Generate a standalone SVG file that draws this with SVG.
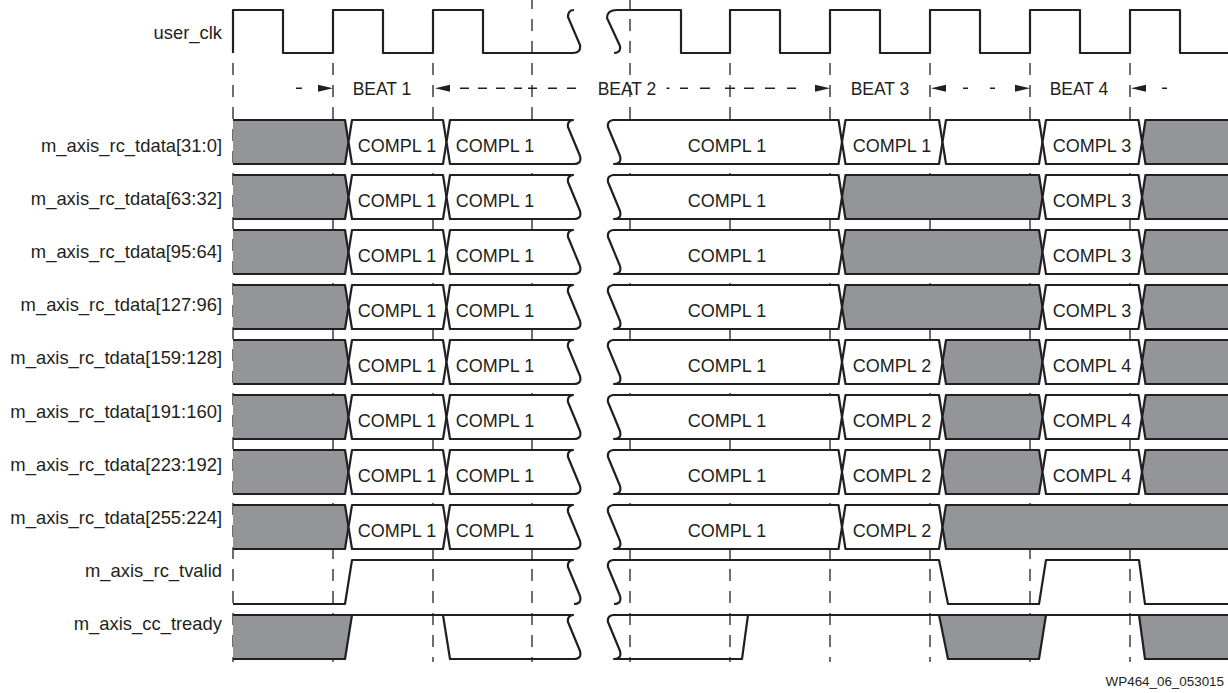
<svg xmlns="http://www.w3.org/2000/svg" width="1228" height="693" viewBox="0 0 1228 693">
<style>
.ln{fill:none;stroke:#231f20;stroke-width:2.2;stroke-linejoin:round}
.w{fill:#fff;stroke:#231f20;stroke-width:2.2;stroke-linejoin:round}
.g{fill:#939598;stroke:#231f20;stroke-width:2.2;stroke-linejoin:round}
.gf{fill:#939598;stroke:none}
.grid{stroke:#231f20;stroke-width:1.3;stroke-dasharray:12 10;fill:none}
.dsh{stroke:#231f20;stroke-width:1.4;fill:none}
.ah{fill:#231f20}
.lbl{font-family:"Liberation Sans",Arial,Helvetica,sans-serif;font-size:18.4px;fill:#231f20;text-anchor:end}
.tx{font-family:"Liberation Sans",Arial,Helvetica,sans-serif;font-size:18px;fill:#231f20;text-anchor:middle}
.bt{font-family:"Liberation Sans",Arial,Helvetica,sans-serif;font-size:17.5px;fill:#231f20;text-anchor:middle}
.ft{font-family:"Liberation Sans",Arial,Helvetica,sans-serif;font-size:13.4px;fill:#231f20;text-anchor:end}
</style>
<defs>
<path id="ahR" class="ah" d="M0,0 L-15,-3.5 L-15,3.5 Z"/>
<path id="ahL" class="ah" d="M0,0 L15,-3.5 L15,3.5 Z"/>
<g id="dl">
<path class="g" d="M233,0 L345,0 L348.5,22 L345,44 L233,44"/>
<path class="w" d="M352,0 L443,0 L446.5,22 L443,44 L352,44 L348.5,22 Z"/>
<path class="w" d="M450,0 L573,0 Q567,1 568,7 L580,36 Q582,44 574,44 L450,44 L446.5,22 Z"/>
<text class="tx" x="397" y="31.7">COMPL 1</text>
<text class="tx" x="495" y="31.7">COMPL 1</text>
</g>
<g id="dr">
<path class="w" d="M613,0 L838.5,0 L842,22 L838.5,44 L614,44 Q622,44 620,36 L608,7 Q607,1 613,0 Z"/>
<text class="tx" x="727" y="31.7">COMPL 1</text>
</g>
<path id="s1" d="M845.5,0 L939,0 L942.5,22 L939,44 L845.5,44 L842,22 Z"/>
<path id="s2" d="M946,0 L1039,0 L1042.5,22 L1039,44 L946,44 L942.5,22 Z"/>
<path id="s3" d="M1046,0 L1138.5,0 L1142,22 L1138.5,44 L1046,44 L1042.5,22 Z"/>
<path id="s12" d="M845.5,0 L1039,0 L1042.5,22 L1039,44 L845.5,44 L842,22 Z"/>
<path id="e3" d="M1228,0 L1145.5,0 L1142,22 L1145.5,44 L1228,44"/>
<path id="e1" d="M1228,0 L946,0 L942.5,22 L946,44 L1228,44"/>
</defs>
<rect width="1228" height="693" fill="#fff"/>

<g id="gridlines">
<path class="grid" d="M233,19 V662 M333,19 V662 M433,19 V662 M532,-3 V662 M630,-3 V662 M730,19 V662 M830,19 V662 M930,19 V662 M1030,19 V662 M1130,19 V662"/>
</g>

<g id="user_clk">
<text class="lbl" x="222" y="39.3">user_clk</text>
<path class="ln" d="M233,53 L233,10 L283,10 L283,53 L333,53 L333,10 L383,10 L383,53 L433,53 L433,10 L483,10 L483,53 L573,53 Q581,53 580,45 L568,17 Q568,10 574,10"/>
<path class="ln" d="M614,53 Q621,53 620,46 L607,18 Q607,10 617,10 L681,10 L681,53 L730,53 L730,10 L780,10 L780,53 L830,53 L830,10 L880,10 L880,53 L930,53 L930,10 L980,10 L980,53 L1030,53 L1030,10 L1080,10 L1080,53 L1130,53 L1130,10 L1180,10 L1180,53 L1228,53"/>
</g>

<g id="connectors">
<path class="dsh" d="M296,88.3 H302 M460,88.3 H469 M478,88.3 H487 M496,88.3 H505 M514,88.3 H522 M528,88.3 H537 M548,88.3 H557 M567,88.3 H576 M666.5,88.3 H669.5 M680,88.3 H688 M700,88.3 H710 M725,88.3 H735 M744,88.3 H754 M765,88.3 H775 M787,88.3 H796 M963,88.3 H968 M990,88.3 H995 M1162,88.3 H1167"/>
<use href="#ahR" x="333" y="88.3"/>
<use href="#ahL" x="435" y="88.3"/>
<use href="#ahR" x="830" y="88.3"/>
<use href="#ahL" x="931" y="88.3"/>
<use href="#ahR" x="1030" y="88.3"/>
<use href="#ahL" x="1131" y="88.3"/>
</g>

<g id="beats">
<text class="bt" x="382" y="95">BEAT 1</text>
<text class="bt" x="627" y="95">BEAT 2</text>
<text class="bt" x="880" y="95">BEAT 3</text>
<text class="bt" x="1079" y="95">BEAT 4</text>
</g>

<g id="tdata_31_0">
<text class="lbl" x="222" y="152">m_axis_rc_tdata[31:0]</text>
<g transform="translate(0,120)">
<use href="#dl"/><use href="#dr"/>
<use href="#s1" class="w"/><text class="tx" x="892" y="31.7">COMPL 1</text>
<use href="#s2" class="w"/>
<use href="#s3" class="w"/><text class="tx" x="1092" y="31.7">COMPL 3</text>
<use href="#e3" class="g"/>
</g>
</g>

<g id="tdata_63_32">
<text class="lbl" x="222" y="205.1">m_axis_rc_tdata[63:32]</text>
<g transform="translate(0,175)">
<use href="#dl"/><use href="#dr"/>
<use href="#s12" class="g"/>
<use href="#s3" class="w"/><text class="tx" x="1092" y="31.7">COMPL 3</text>
<use href="#e3" class="g"/>
</g>
</g>

<g id="tdata_95_64">
<text class="lbl" x="222" y="258.2">m_axis_rc_tdata[95:64]</text>
<g transform="translate(0,230)">
<use href="#dl"/><use href="#dr"/>
<use href="#s12" class="g"/>
<use href="#s3" class="w"/><text class="tx" x="1092" y="31.7">COMPL 3</text>
<use href="#e3" class="g"/>
</g>
</g>

<g id="tdata_127_96">
<text class="lbl" x="222" y="311.3">m_axis_rc_tdata[127:96]</text>
<g transform="translate(0,285)">
<use href="#dl"/><use href="#dr"/>
<use href="#s12" class="g"/>
<use href="#s3" class="w"/><text class="tx" x="1092" y="31.7">COMPL 3</text>
<use href="#e3" class="g"/>
</g>
</g>

<g id="tdata_159_128">
<text class="lbl" x="222" y="364.4">m_axis_rc_tdata[159:128]</text>
<g transform="translate(0,340)">
<use href="#dl"/><use href="#dr"/>
<use href="#s1" class="w"/><text class="tx" x="892" y="31.7">COMPL 2</text>
<use href="#s2" class="g"/>
<use href="#s3" class="w"/><text class="tx" x="1092" y="31.7">COMPL 4</text>
<use href="#e3" class="g"/>
</g>
</g>

<g id="tdata_191_160">
<text class="lbl" x="222" y="417.5">m_axis_rc_tdata[191:160]</text>
<g transform="translate(0,395)">
<use href="#dl"/><use href="#dr"/>
<use href="#s1" class="w"/><text class="tx" x="892" y="31.7">COMPL 2</text>
<use href="#s2" class="g"/>
<use href="#s3" class="w"/><text class="tx" x="1092" y="31.7">COMPL 4</text>
<use href="#e3" class="g"/>
</g>
</g>

<g id="tdata_223_192">
<text class="lbl" x="222" y="470.6">m_axis_rc_tdata[223:192]</text>
<g transform="translate(0,450)">
<use href="#dl"/><use href="#dr"/>
<use href="#s1" class="w"/><text class="tx" x="892" y="31.7">COMPL 2</text>
<use href="#s2" class="g"/>
<use href="#s3" class="w"/><text class="tx" x="1092" y="31.7">COMPL 4</text>
<use href="#e3" class="g"/>
</g>
</g>

<g id="tdata_255_224">
<text class="lbl" x="222" y="523.7">m_axis_rc_tdata[255:224]</text>
<g transform="translate(0,505)">
<use href="#dl"/><use href="#dr"/>
<use href="#s1" class="w"/><text class="tx" x="892" y="31.7">COMPL 2</text>
<use href="#e1" class="g"/>
</g>
</g>

<g id="rc_tvalid">
<text class="lbl" x="222" y="576.8">m_axis_rc_tvalid</text>
<path class="ln" d="M233,604 L345,604 L352,560 L573,560 Q567,561 568,567 L580,596 Q582,604 574,604"/>
<path class="ln" d="M614,604 Q622,604 620,596 L608,567 Q607,561 613,560 L939,560 L948,604 L1039,604 L1046,560 L1139,560 L1145,604 L1228,604"/>
</g>

<g id="cc_tready">
<text class="lbl" x="222" y="629.9">m_axis_cc_tready</text>
<path class="gf" d="M233,615 L352,615 L345,659 L233,659 Z"/>
<path class="gf" d="M939,615 L1046,615 L1039,659 L948,659 Z"/>
<path class="gf" d="M1139,615 L1228,615 L1228,659 L1145,659 Z"/>
<path class="ln" d="M233,659 L345,659 L352,615"/>
<path class="ln" d="M233,615 L573,615 Q567,616 568,622 L580,651 Q582,659 574,659 L450,659 L443,615"/>
<path class="ln" d="M1228,615 L613,615 Q607,616 608,622 L620,651 Q622,659 614,659 L742,659 L748,615"/>
<path class="ln" d="M939,615 L948,659 L1039,659 L1046,615"/>
<path class="ln" d="M1139,615 L1145,659 L1228,659"/>
</g>

<text class="ft" x="1224" y="686">WP464_06_053015</text>
</svg>
